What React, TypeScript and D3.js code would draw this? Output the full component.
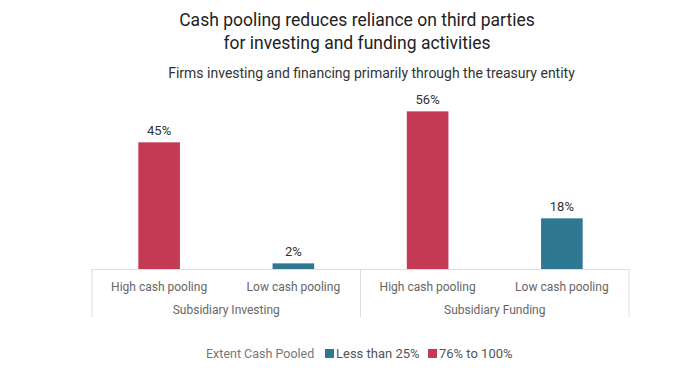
import React from 'react';
import * as d3 from 'd3';

const groups = ['Subsidiary Investing', 'Subsidiary Funding'];
const categories = ['High cash pooling', 'Low cash pooling'];
const values = [45, 2, 56, 18];
const seriesOf = ['76% to 100%', 'Less than 25%', '76% to 100%', 'Less than 25%'];
const legendItems = ['Less than 25%', '76% to 100%'];
const colors: Record<string, string> = { 'Less than 25%': '#2e7891', '76% to 100%': '#c43a55' };

const width = 696;
const height = 390;
const left = 92;
const right = 629;
const base = 269;
const font = 'Roboto, "Liberation Sans", sans-serif';

const App = () => {
  const bars = groups.flatMap((g, gi) => categories.map((c, ci) => ({
    key: `${g}|${c}`, group: g, cat: c, value: values[gi * 2 + ci], series: seriesOf[gi * 2 + ci]
  })));

  const x = d3.scaleBand().domain(bars.map(d => d.key)).range([left, right]).paddingInner(0.69).paddingOuter(0.345);
  const xg = d3.scaleBand().domain(groups).range([left, right]);
  const y = d3.scaleLinear().domain([0, 100]).range([base, base - 281.5]);

  return (
    <svg width={width} height={height} style={{ position: 'absolute', left: 0, top: 0, background: '#fff' }} fontFamily={font}>
      <text x={357} y={26} textAnchor="middle" fontSize={17.5} fill="#222">Cash pooling reduces reliance on third parties</text>
      <text x={357} y={49} textAnchor="middle" fontSize={17.5} fill="#222">for investing and funding activities</text>
      <text x={371.5} y={78} textAnchor="middle" fontSize={14} fill="#333">Firms investing and financing primarily through the treasury entity</text>

      {bars.map(d => (
        <g key={d.key}>
          <rect x={x(d.key)} y={y(d.value)} width={x.bandwidth()} height={base - y(d.value)} fill={colors[d.series]} />
          <text x={x(d.key)! + x.bandwidth() / 2} y={y(d.value) - 7} textAnchor="middle" fontSize={13} fill="#333">{d.value}%</text>
          <text x={x(d.key)! + x.bandwidth() / 2} y={291} textAnchor="middle" fontSize={12} fill="#666">{d.cat}</text>
        </g>
      ))}

      <line x1={left} x2={right} y1={base + 0.5} y2={base + 0.5} stroke="#ddd" />
      {[left, xg(groups[1])!, right].map((v, i) => (
        <line key={i} x1={v} x2={v} y1={base} y2={317} stroke="#ddd" />
      ))}
      {groups.map(g => (
        <text key={g} x={xg(g)! + xg.bandwidth() / 2} y={314} textAnchor="middle" fontSize={12} fill="#666">{g}</text>
      ))}

      <text x={206} y={358} fontSize={12.5} fill="#777">Extent Cash Pooled</text>
      {legendItems.map((s, i) => {
        const lx = [325, 428][i];
        return (
          <g key={s}>
            <rect x={lx} y={349} width={9} height={9} fill={colors[s]} />
            <text x={lx + 11} y={358} fontSize={13} fill="#555">{s}</text>
          </g>
        );
      })}
    </svg>
  );
};

export default App;
